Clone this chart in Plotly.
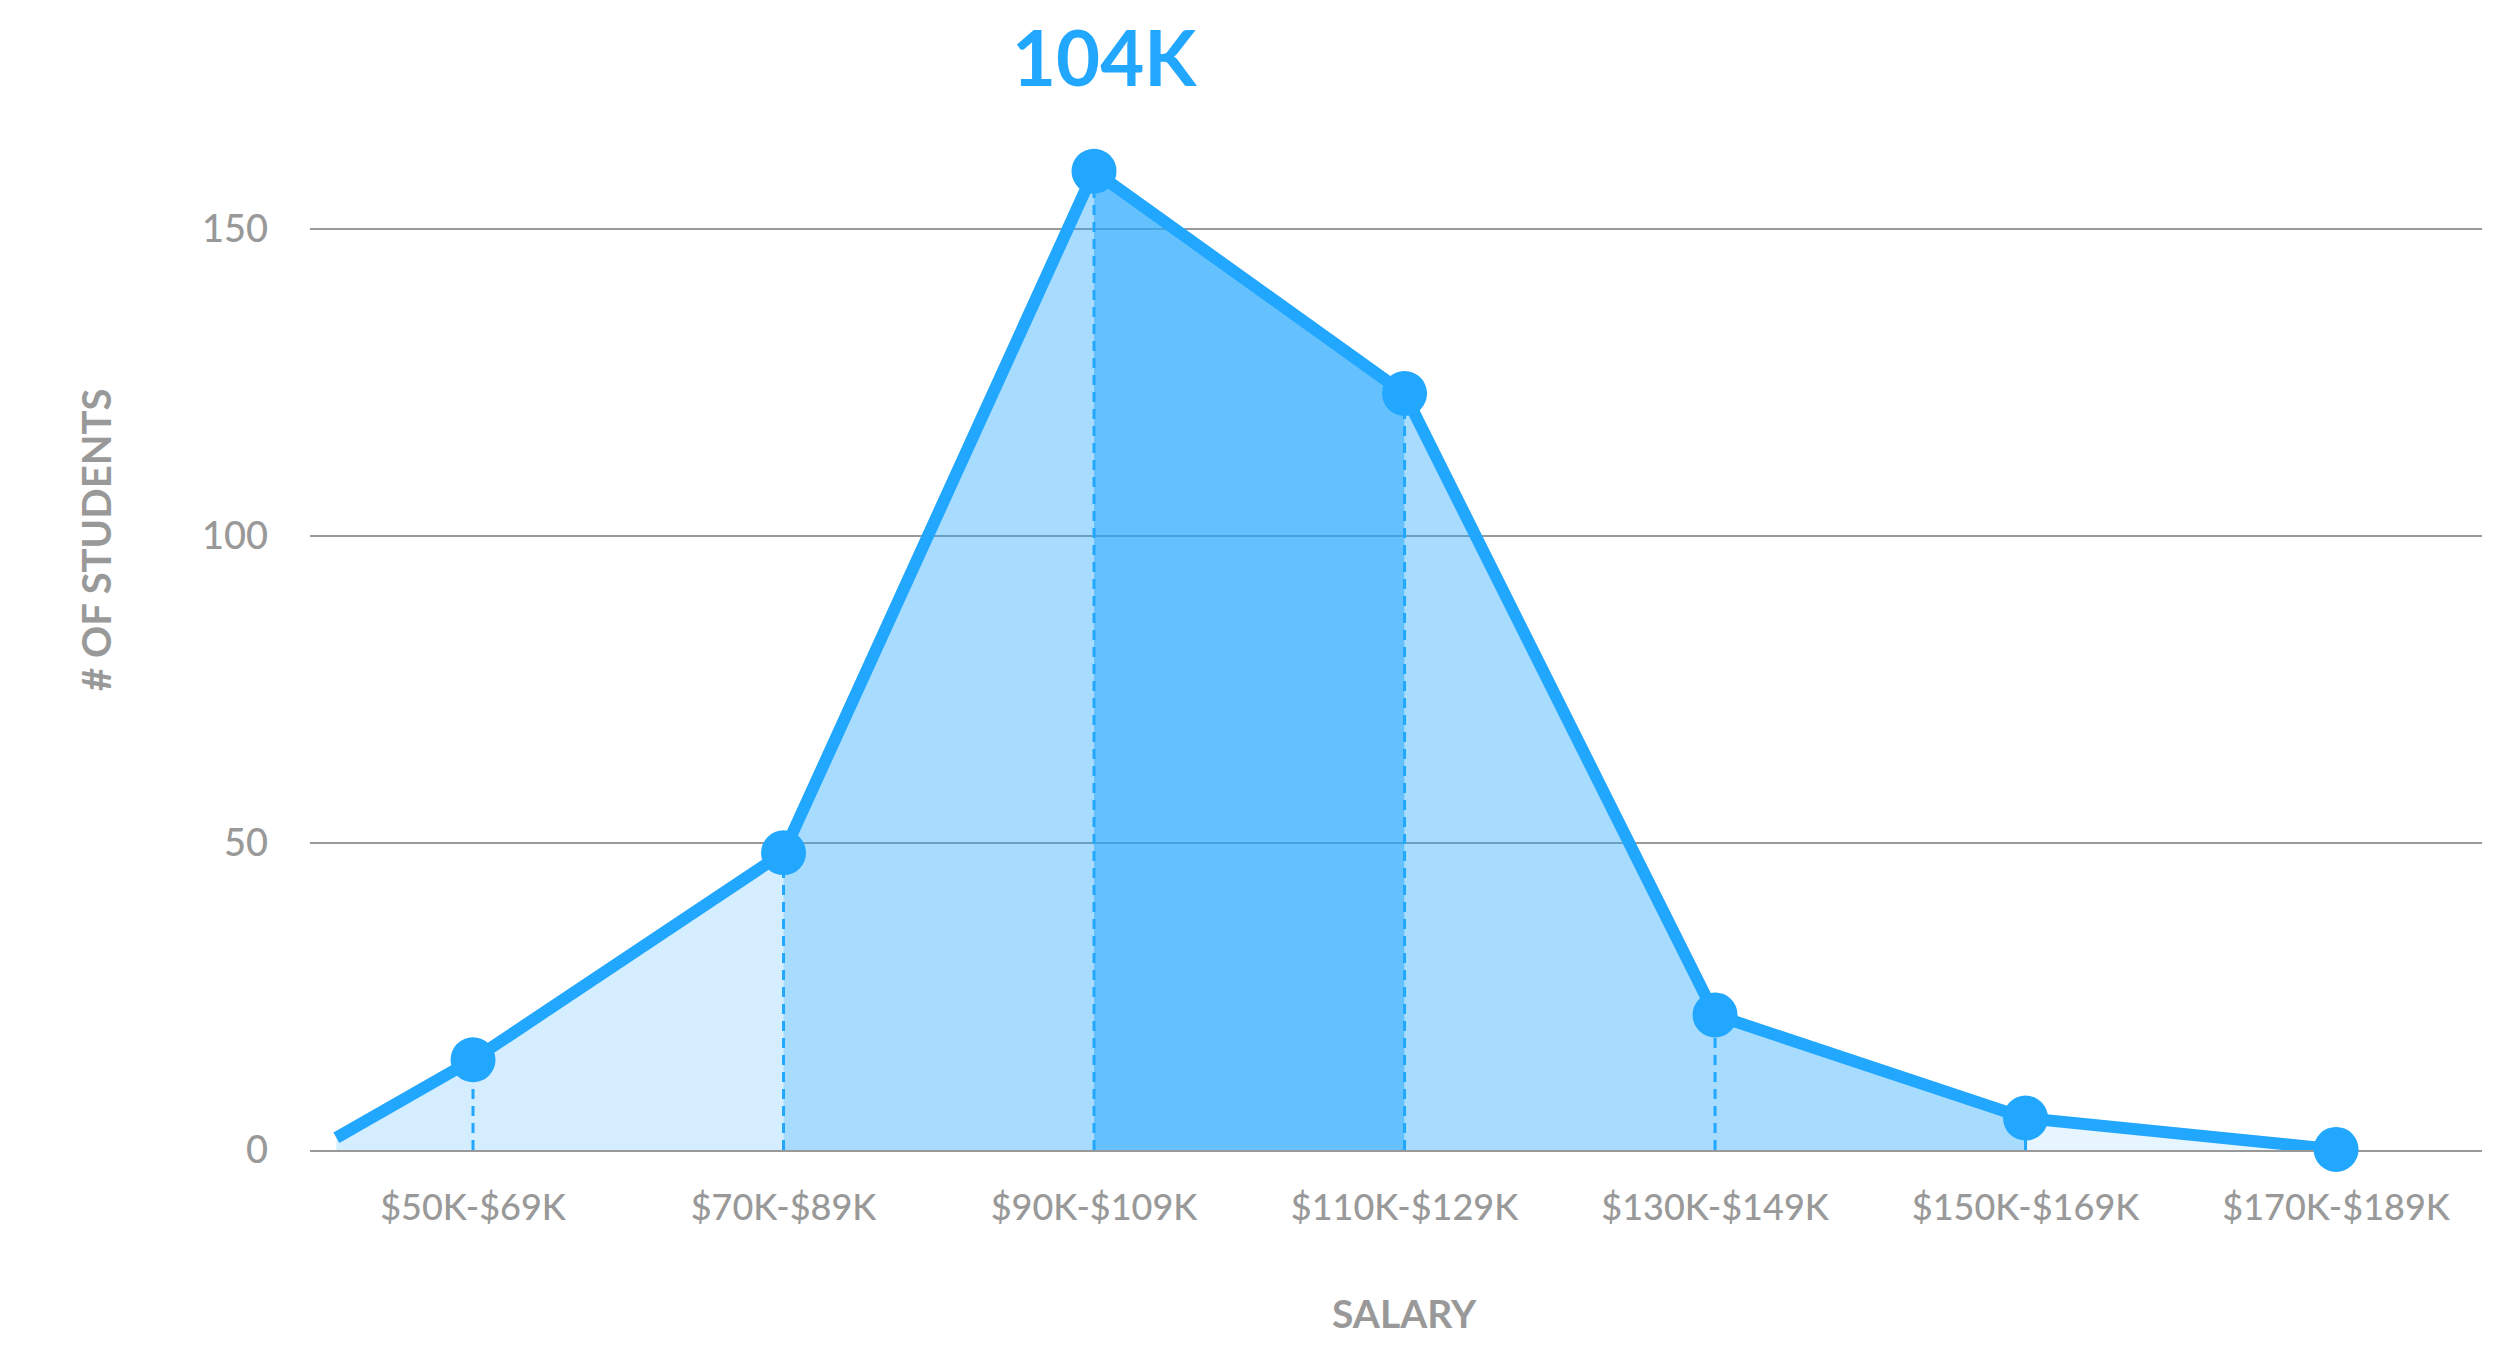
import plotly.graph_objects as go

# ---- data ----
categories = ["$50K-$69K", "$70K-$89K", "$90K-$109K", "$110K-$129K",
              "$130K-$149K", "$150K-$169K", "$170K-$189K"]
students = [14.7, 48.4, 159.4, 123.2, 22.0, 5.2, 0.1]
start_x = -0.44          # line begins a little left of the first category
start_value = 2.0
y_ticks = [0, 50, 100, 150]
peak_label = "104K"
y_title = "# OF STUDENTS"
x_title = "SALARY"

# ---- style ----
BLUE = "#22a7fe"
GREY = "#999999"
FONT = "Lato, 'Source Sans Pro', 'Open Sans', sans-serif"

def band(alpha):
    return f"rgba(34,167,254,{alpha})"

xs = [start_x] + list(range(len(categories)))
ys = [start_value] + students

# shaded bands (index ranges into xs/ys) and their opacity
bands = [((0, 2), 0.19), ((2, 3), 0.40), ((3, 4), 0.70), ((4, 6), 0.40), ((6, 7), 0.11)]

fig = go.Figure()
for (a, b), alpha in bands:
    fig.add_trace(go.Scatter(x=xs[a:b + 1], y=ys[a:b + 1], mode="none",
                             fill="tozeroy", fillcolor=band(alpha),
                             hoverinfo="skip", showlegend=False))

# dashed drop lines
for i, v in enumerate(students):
    fig.add_trace(go.Scatter(x=[i, i], y=[0, v], mode="lines",
                             line=dict(color=BLUE, width=3, dash="10px,7px"),
                             hoverinfo="skip", showlegend=False))

# main line
fig.add_trace(go.Scatter(x=xs, y=ys, mode="lines",
                         line=dict(color=BLUE, width=12),
                         cliponaxis=False, showlegend=False))
# point markers
fig.add_trace(go.Scatter(x=list(range(len(students))), y=students, mode="markers",
                         marker=dict(size=45, color=BLUE, opacity=1,
                                     line=dict(width=0)),
                         cliponaxis=False, showlegend=False))

peak_i = max(range(len(students)), key=lambda i: students[i])

fig.update_layout(
    width=2484, height=1335,
    margin=dict(l=302, r=10, t=92, b=193),
    paper_bgcolor="white", plot_bgcolor="white",
    showlegend=False,
    font=dict(family=FONT, color=GREY),
    xaxis=dict(range=[-0.525, 6.47], tickmode="array",
               tickvals=list(range(len(categories))), ticktext=categories,
               showgrid=False, zeroline=False,
               showline=True, linecolor=GREY, linewidth=2, layer="below traces",
               ticks="", ticklabelstandoff=25,
               tickfont=dict(family=FONT, size=36, color=GREY, weight=500)),
    yaxis=dict(range=[0, 171.0], tickmode="array", tickvals=y_ticks,
               showgrid=True, gridcolor=GREY, gridwidth=2, zeroline=False,
               ticks="", ticklabelstandoff=41,
               tickfont=dict(family=FONT, size=38, color=GREY, weight=500)),
    annotations=[
        dict(x=peak_i, xref="x", y=1.0414, yref="paper", xshift=10,
             text=peak_label, showarrow=False, yanchor="middle",
             font=dict(family=FONT, size=76, color=BLUE, weight=700)),
        dict(x=-0.0985, xref="paper", y=0.581, yref="paper",
             text=y_title, textangle=-90, showarrow=False,
             xanchor="center", yanchor="middle",
             font=dict(family=FONT, size=40, color=GREY, weight=700)),
        dict(x=0.504, xref="paper", y=-0.155, yref="paper",
             text=x_title, showarrow=False, xanchor="center", yanchor="middle",
             font=dict(family=FONT, size=39, color=GREY, weight=700)),
    ],
)

fig.write_html("out.html")
